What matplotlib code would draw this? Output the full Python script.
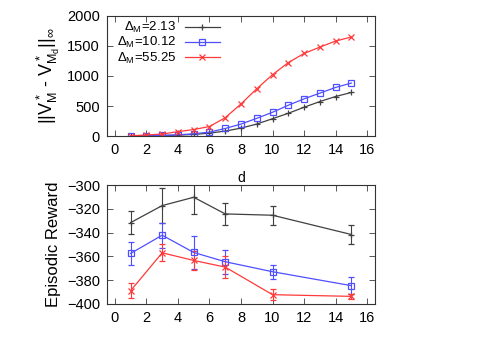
import numpy as np
import matplotlib
matplotlib.use('Agg')
import matplotlib.pyplot as plt

plt.rcParams['font.family'] = ['Liberation Sans', 'DejaVu Sans']
plt.rcParams['mathtext.fontset'] = 'custom'
plt.rcParams['mathtext.rm'] = 'Liberation Sans'
plt.rcParams['mathtext.it'] = 'Liberation Sans'
plt.rcParams['mathtext.bf'] = 'Liberation Sans'

# --- data: top panel (value gap vs d) ---
d_top = [1, 2, 3, 4, 5, 6, 7, 8, 9, 10, 11, 12, 13, 14, 15]
gap_213 = [2, 6, 11, 17, 28, 50, 84, 134, 201, 290, 380, 480, 575, 659, 726]
gap_1012 = [2, 6, 11, 22, 39, 67, 128, 201, 296, 397, 514, 620, 715, 810, 883]
gap_5525 = [5, 20, 35, 75, 110, 160, 307, 536, 788, 1022, 1223, 1374, 1480, 1581, 1648]

# --- data: bottom panel (episodic reward vs d) ---
d_bot = [1, 3, 5, 7, 10, 15]
rew_213 = [-331.6, -317.3, -310.3, -324.3, -325.4, -341.6]
err_213 = [9.5, 15, 14, 9, 8, 8]
rew_1012 = [-357.5, -342.2, -356.7, -364.5, -372.9, -384.6]
err_1012 = [10, 10.5, 14, 10, 6, 7]
rew_5525 = [-388.8, -357.0, -363.4, -369.0, -392.2, -393.6]
err_5525 = [6.5, 7, 8, 9, 4.5, 2]

labels = [r'$\Delta_M$=2.13', r'$\Delta_M$=10.12', r'$\Delta_M$=55.25']
colors = ['#404040', '#4f4fff', '#ff3a3a']
markers = ['+', 's', 'x']

fig = plt.figure(figsize=(4.82, 3.37), dpi=100)
ax1 = fig.add_axes([0.222, 0.596, 0.556, 0.357])
ax2 = fig.add_axes([0.222, 0.098, 0.556, 0.353])

tops = [gap_213, gap_1012, gap_5525]
for y, lab, c, m in zip(tops, labels, colors, markers):
    ax1.plot(d_top, y, color=c, marker=m, lw=0.9, ms=4.5, mfc='none',
             mew=0.9, label=lab)

bots = [(rew_213, err_213), (rew_1012, err_1012), (rew_5525, err_5525)]
for (y, e), c, m in zip(bots, colors, markers):
    ax2.errorbar(d_bot, y, yerr=e, color=c, marker=m, lw=0.9, ms=4.5,
                 mfc='none', mew=0.9, capsize=2.5, elinewidth=0.8)

ax1.set_xlim(-0.5, 16.5)
ax1.set_ylim(0, 2000)
ax1.set_yticks([0, 500, 1000, 1500, 2000])
ax1.set_xticks(range(0, 17, 2))
ax1.set_xlabel('d', fontsize=10, labelpad=10)
ax1.set_ylabel(r'$||V^*_M$ - $V^*_{M_d}||_\infty$', fontsize=13, labelpad=4)
ax1.legend(loc='upper right', markerfirst=False, frameon=False, fontsize=9.5,
           handlelength=2.6, handletextpad=0.7, labelspacing=0.0,
           borderaxespad=0, borderpad=0.2, bbox_to_anchor=(0.43, 0.985))

ax2.set_xlim(-0.5, 16.5)
ax2.set_ylim(-400, -300)
ax2.set_yticks(range(-400, -299, 20))
ax2.set_xticks(range(0, 17, 2))
ax2.set_ylabel('Episodic Reward', fontsize=12, labelpad=4)

for ax in (ax1, ax2):
    ax.tick_params(direction='in', top=True, right=True, labelsize=10.5,
                   length=4, width=0.7, color='#555555', pad=5)
    for s in ax.spines.values():
        s.set_color('#333333')
        s.set_linewidth(0.8)

fig.savefig('out.png', dpi=100)
